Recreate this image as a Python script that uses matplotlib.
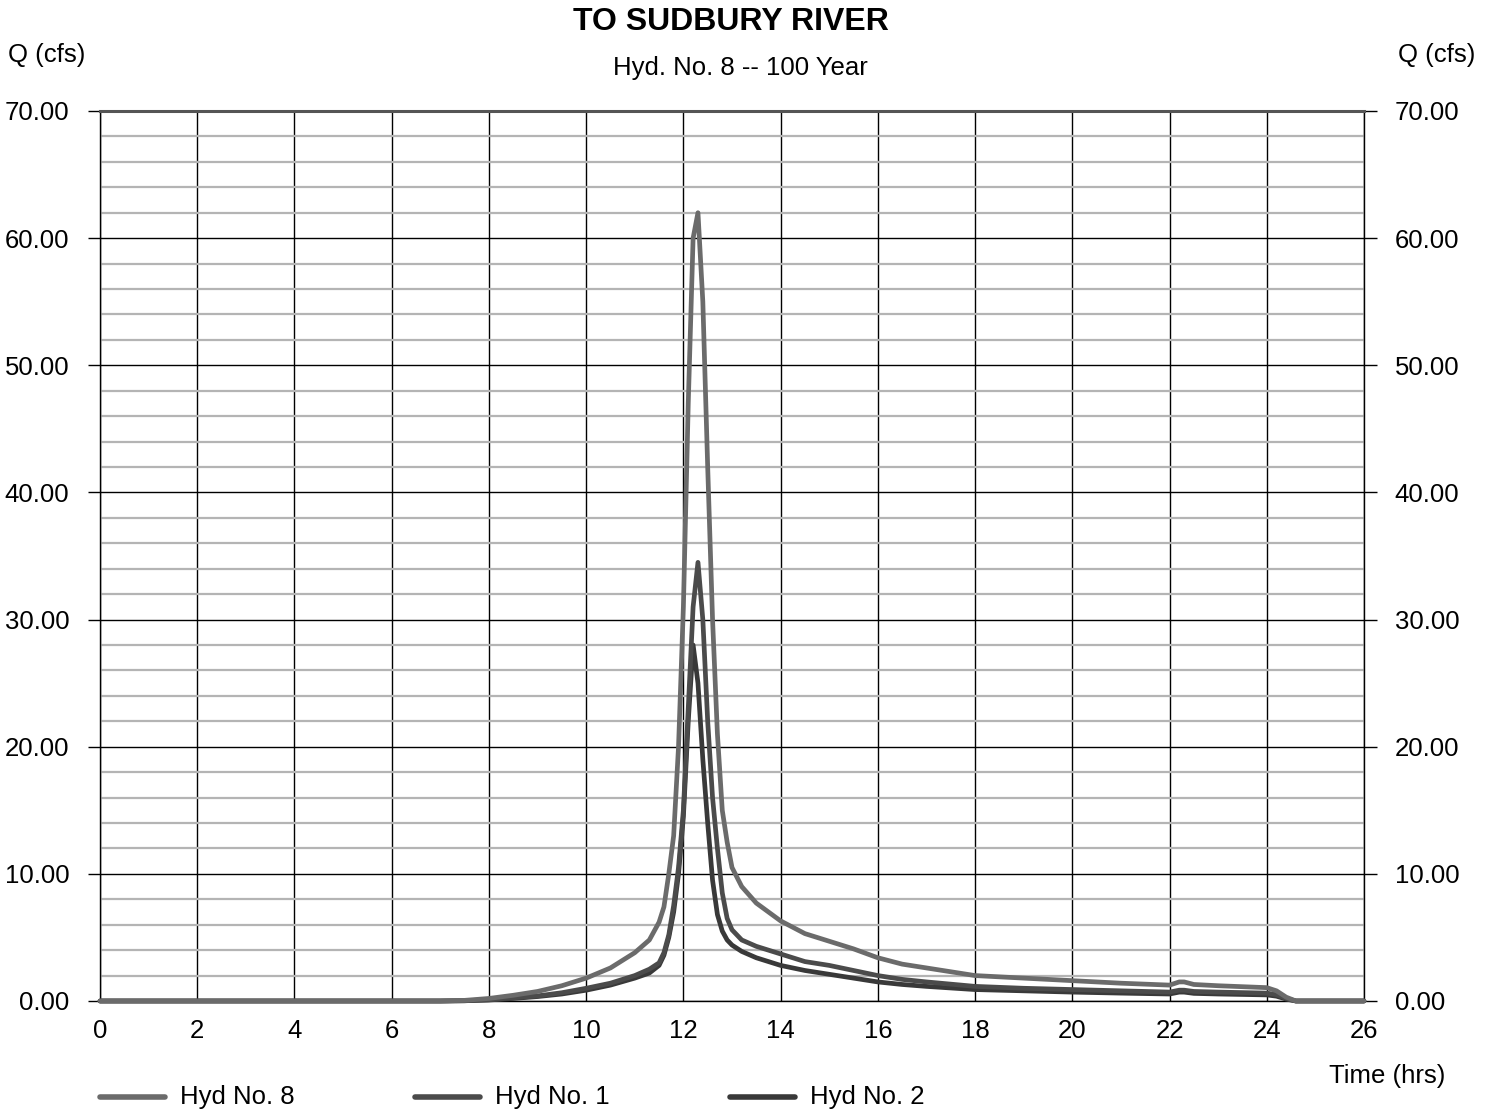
import matplotlib
matplotlib.use('Agg')
import matplotlib.pyplot as plt
from matplotlib.lines import Line2D
from matplotlib.ticker import MultipleLocator, FormatStrFormatter

plt.rcParams['font.family'] = ['Liberation Sans', 'DejaVu Sans']

# time (hrs) and discharge (cfs)
time_hrs = [0, 7.0, 7.5, 8, 8.5, 9, 9.5, 10, 10.5, 11, 11.3, 11.5, 11.6, 11.7, 11.8,
            11.9, 12.0, 12.1, 12.2, 12.3, 12.4, 12.5, 12.6, 12.7, 12.8, 12.9, 13.0,
            13.2, 13.5, 14.0, 14.5, 15.0, 15.5, 16.0, 16.5, 17, 18, 19, 20, 21, 22,
            22.2, 22.3, 22.5, 23, 24, 24.2, 24.4, 24.6, 26]

hyd8 = [0, 0, 0.05, 0.2, 0.45, 0.75, 1.2, 1.8, 2.6, 3.8, 4.8, 6.2, 7.4, 10, 13,
        20, 31, 47, 60, 62, 55, 42, 30, 21, 15, 12.5, 10.5,
        9.0, 7.7, 6.3, 5.3, 4.7, 4.1, 3.4, 2.9, 2.6, 2.0, 1.8, 1.6, 1.4, 1.25,
        1.5, 1.5, 1.3, 1.2, 1.05, 0.8, 0.3, 0, 0]

hyd1 = [0, 0, 0.02, 0.1, 0.25, 0.4, 0.65, 1.0, 1.4, 2.0, 2.5, 3.0, 3.8, 5.2, 7.5,
        10.5, 15, 23, 31, 34.5, 30, 22, 16, 12, 8.5, 6.5, 5.6,
        4.8, 4.3, 3.7, 3.1, 2.8, 2.4, 2.0, 1.7, 1.5, 1.15, 1.0, 0.9, 0.8, 0.7,
        0.85, 0.85, 0.75, 0.7, 0.62, 0.5, 0.2, 0, 0]

hyd2 = [0, 0, 0.02, 0.08, 0.2, 0.35, 0.55, 0.85, 1.25, 1.8, 2.2, 2.8, 3.6, 5.0, 7.0,
        10.0, 14.5, 22, 28, 25, 19, 14, 9.5, 6.8, 5.5, 4.8, 4.4,
        3.9, 3.4, 2.8, 2.4, 2.1, 1.8, 1.5, 1.3, 1.15, 0.9, 0.8, 0.7, 0.62, 0.55,
        0.7, 0.7, 0.6, 0.55, 0.48, 0.38, 0.15, 0, 0]

series_names = ['Hyd No. 8', 'Hyd No. 1', 'Hyd No. 2']
series_colors = ['#6b6b6b', '#4b4b4b', '#393939']

fs = 18.5
fig = plt.figure(figsize=(14.92, 11.12), dpi=100)
ax = fig.add_axes([100 / 1492, 1 - 1001 / 1112, 1264 / 1492, 890 / 1112])

ax.set_xlim(0, 26)
ax.set_ylim(0, 70)
ax.xaxis.set_major_locator(MultipleLocator(2))
ax.yaxis.set_major_locator(MultipleLocator(10))
ax.yaxis.set_minor_locator(MultipleLocator(2))
ax.yaxis.set_major_formatter(FormatStrFormatter('%.2f'))

ax.grid(which='minor', axis='y', color='#b4b4b4', lw=1.6, zorder=0)
ax.grid(which='major', axis='both', color='black', lw=1.0, zorder=0.5)
ax.set_axisbelow(True)

ax.tick_params(axis='y', which='major', direction='out', length=9, width=1,
               left=True, right=True, labelleft=True, labelright=True,
               labelsize=fs, pad=13)
ax.tick_params(axis='y', which='minor', length=0)
ax.tick_params(axis='x', which='major', length=0, labelsize=fs, pad=13)

for s in ['left', 'right', 'bottom']:
    ax.spines[s].set_color('black')
    ax.spines[s].set_linewidth(1.0)
ax.spines['top'].set_color('#555555')
ax.spines['top'].set_linewidth(2.2)

# draw so that Hyd No. 8 is on top
for vals, c, z in [(hyd2, series_colors[2], 3), (hyd1, series_colors[1], 4), (hyd8, series_colors[0], 5)]:
    ax.plot(time_hrs, vals, color=c, lw=3.4, solid_joinstyle='round',
            solid_capstyle='round', zorder=z, clip_on=False)

# titles / labels
fig.text(731 / 1492, 1 - 22 / 1112, 'TO SUDBURY RIVER', ha='center', va='center',
         fontsize=23, fontweight='bold')
fig.text(740 / 1492, 1 - 68 / 1112, 'Hyd. No. 8 -- 100 Year', ha='center', va='center',
         fontsize=fs)
fig.text(8 / 1492, 1 - 55 / 1112, 'Q (cfs)', ha='left', va='center', fontsize=fs)
fig.text(1475 / 1492, 1 - 55 / 1112, 'Q (cfs)', ha='right', va='center', fontsize=fs)
fig.text(1387 / 1492, 1 - 1076 / 1112, 'Time (hrs)', ha='center', va='center', fontsize=fs)

# legend along the bottom
leg_x = [100, 415, 730]
ly = 1 - 1097 / 1112
for x0, name, c in zip(leg_x, series_names, series_colors):
    fig.add_artist(Line2D([x0 / 1492, (x0 + 65) / 1492], [ly, ly], color=c, lw=4,
                          solid_capstyle='round', transform=fig.transFigure))
    fig.text((x0 + 80) / 1492, ly, name, ha='left', va='center', fontsize=fs)

fig.savefig('out.png', dpi=100)
